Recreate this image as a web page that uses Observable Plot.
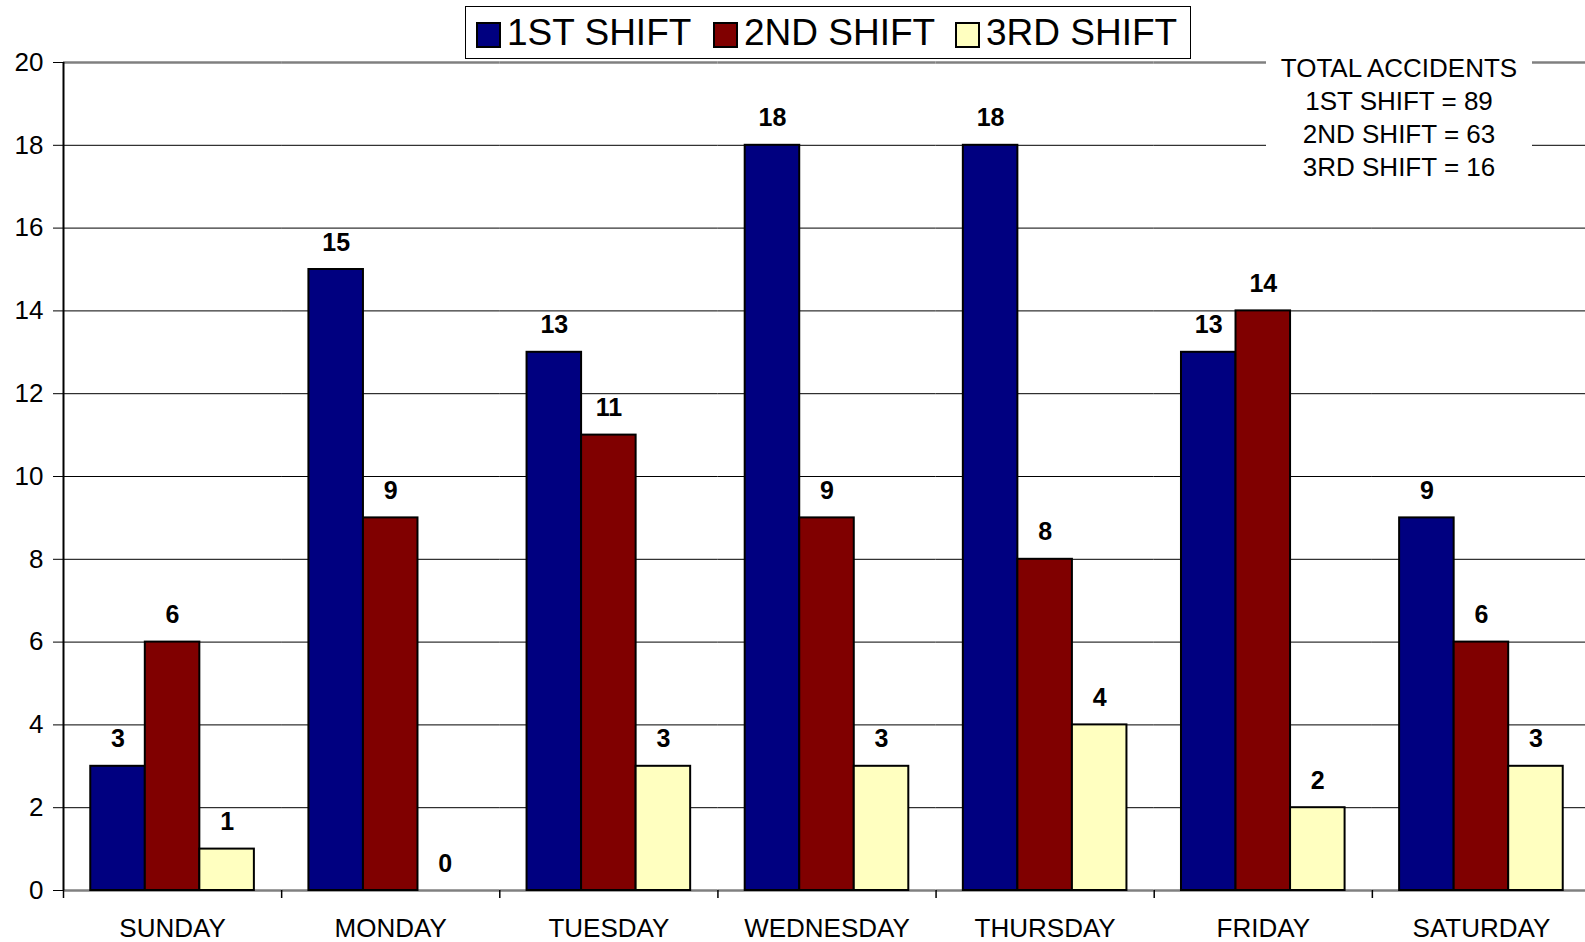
<!DOCTYPE html>
<html><head><meta charset="utf-8">
<script src="https://cdn.jsdelivr.net/npm/d3@7"></script>
<script src="https://cdn.jsdelivr.net/npm/@observablehq/plot@0.6"></script>
<style>
html,body{margin:0;padding:0;overflow:hidden;background:#fff;}
#wrap{position:relative;width:1585px;height:942px;font-family:"Liberation Sans",Arial,sans-serif;color:#000;}
#legend{position:absolute;left:465px;top:6px;width:726px;height:53px;box-sizing:border-box;border:1px solid #000;background:#fff;z-index:2;}
.item{position:absolute;top:0;height:51px;display:flex;align-items:center;font-size:37px;white-space:nowrap;}
.sw{width:25px;height:26px;border:2px solid #000;box-sizing:border-box;margin-right:6px;margin-top:4px;}
#totals{position:absolute;left:1266px;top:52px;width:266px;height:133px;background:#fff;text-align:center;font-size:26px;line-height:33px;z-index:2;}
#chart{position:absolute;left:0;top:0;}
</style></head>
<body>
<div id="wrap">
  <div id="chart"></div>
  <div id="legend"></div>
  <div id="totals"></div>
</div>
<script>
const days = ["SUNDAY","MONDAY","TUESDAY","WEDNESDAY","THURSDAY","FRIDAY","SATURDAY"];
const shifts = ["1ST SHIFT","2ND SHIFT","3RD SHIFT"];
const shift1 = [3, 15, 13, 18, 18, 13, 9];
const shift2 = [6, 9, 11, 9, 8, 14, 6];
const shift3 = [1, 0, 3, 3, 4, 2, 3];
const colors = ["#000080", "#800000", "#FFFFC0"];
const yTicks = [0, 2, 4, 6, 8, 10, 12, 14, 16, 18, 20];
const totalsTitle = "TOTAL ACCIDENTS";

const series = [shift1, shift2, shift3];
const rows = days.flatMap((day, i) => shifts.map((s, j) => ({day, shift: s, value: series[j][i]})));

const W = 1585, H = 942, mL = 63, mR = -5, mT = 62, mB = 52;
const step = (W - mL - mR) / days.length;

const chart = Plot.plot({
  width: W, height: H,
  marginLeft: mL, marginRight: mR, marginTop: mT, marginBottom: mB,
  style: {fontFamily: "'Liberation Sans', Arial, sans-serif", fontSize: "26px", background: "transparent", color: "#000"},
  fx: {domain: days, padding: 0, round: false, axis: null, label: null},
  x: {domain: shifts, paddingInner: 0, paddingOuter: 0.5, round: false, axis: null, label: null},
  y: {domain: [0, 20], axis: null},
  color: {domain: shifts, range: colors},
  marks: [
    Plot.ruleY(yTicks.filter(d => d > 0 && d < 20), {stroke: "#000", strokeWidth: 1}),
    Plot.ruleY([20], {stroke: "#808080", strokeWidth: 2.5}),
    Plot.ruleY([0], {stroke: "#808080", strokeWidth: 2.5}),
    Plot.ruleX(days, {fx: d => d, x: null, y1: 0, y2: 0, insetBottom: -8, dx: -step / 2, stroke: "#000", strokeWidth: 1.5}),
    Plot.ruleX([days[0]], {fx: d => d, x: null, y1: 20, y2: 0, dx: -step / 2, stroke: "#000", strokeWidth: 2}),
    Plot.barY(rows.filter(d => d.value > 0), {fx: "day", x: "shift", y: "value", fill: "shift", stroke: "#000", strokeWidth: 2}),
    Plot.text(rows, {fx: "day", x: "shift", y: "value", text: d => String(d.value), dy: -19, lineAnchor: "bottom", fontWeight: "bold", fontSize: 25, fill: "#000"}),
    Plot.text(days, {fx: d => d, text: d => d, frameAnchor: "bottom", lineAnchor: "bottom", dy: 46.7, fontSize: 26, fill: "#000"}),
    Plot.axisY({ticks: yTicks, tickSize: 10, tickPadding: 10, fontSize: 26, label: null, tickFormat: d => String(d), stroke: "#000"})
  ]
});
document.getElementById("chart").appendChild(chart);

// legend
const legend = document.getElementById("legend");
const swLeft = [10, 247, 489];
shifts.forEach((s, j) => {
  const it = document.createElement("div");
  it.className = "item";
  it.style.left = swLeft[j] + "px";
  const sw = document.createElement("div");
  sw.className = "sw";
  sw.style.background = colors[j];
  const tx = document.createElement("span");
  tx.textContent = s;
  it.appendChild(sw); it.appendChild(tx);
  legend.appendChild(it);
});

// totals annotation
const totals = document.getElementById("totals");
const lines = [totalsTitle].concat(shifts.map((s, j) => `${s} = ${d3.sum(series[j])}`));
lines.forEach(l => { const d = document.createElement("div"); d.textContent = l; totals.appendChild(d); });
</script>
</body></html>
